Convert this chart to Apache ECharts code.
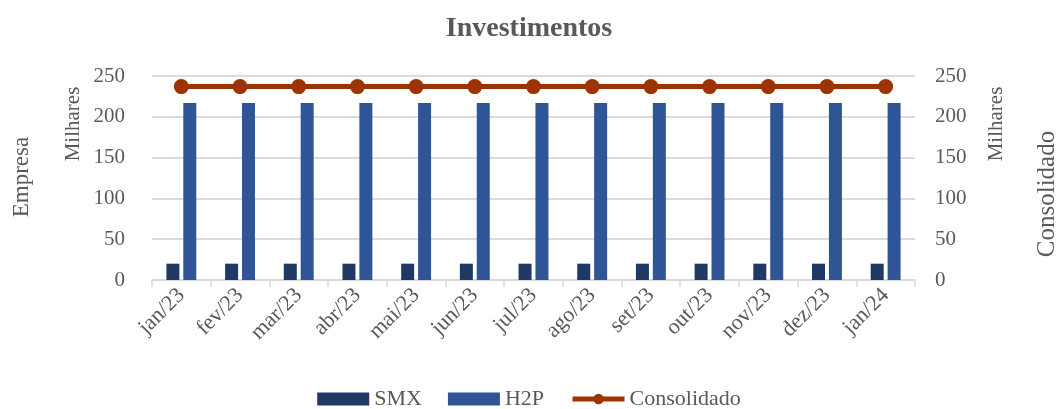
<!DOCTYPE html>
<html>
<head>
<meta charset="utf-8">
<script src="https://cdn.jsdelivr.net/npm/echarts@6/dist/echarts.min.js"></script>
<style>
html,body{margin:0;padding:0;background:#fff;}
#chart{width:1058px;height:409px;}
</style>
</head>
<body>
<div id="chart"></div>
<script>
var months = ['jan/23','fev/23','mar/23','abr/23','mai/23','jun/23','jul/23','ago/23','set/23','out/23','nov/23','dez/23','jan/24'];
var smx = [20, 20, 20, 20, 20, 20, 20, 20, 20, 20, 20, 20, 20];
var h2p = [217, 217, 217, 217, 217, 217, 217, 217, 217, 217, 217, 217, 217];
var consolidado = [237, 237, 237, 237, 237, 237, 237, 237, 237, 237, 237, 237, 237];

var font = '"Liberation Serif", "DejaVu Serif", serif';
var grey = '#595959';
var gridColor = '#d9d9d9';
var red = '#9c3300';

var chart = echarts.init(document.getElementById('chart'));

// eixo de valores, igual dos dois lados
function valueAxis(pos, margin) {
  return {
    type: 'value',
    position: pos,
    min: 0,
    max: 250,
    interval: 50,
    axisLine: { show: false },
    axisTick: { show: false },
    splitLine: { lineStyle: { color: gridColor, width: 1.5 } },
    axisLabel: { color: grey, fontFamily: font, fontSize: 21, margin: margin }
  };
}

// titulos verticais dos eixos
function vText(txt, x, y, size) {
  return {
    type: 'text', x: x, y: y, rotation: Math.PI / 2,
    style: { text: txt, fill: grey, font: size + 'px ' + font, textAlign: 'center', textVerticalAlign: 'middle' }
  };
}

chart.setOption({
  animation: false,
  textStyle: { fontFamily: font },
  title: {
    text: 'Investimentos',
    left: 'center',
    top: 10,
    textStyle: { color: grey, fontFamily: font, fontSize: 28, fontWeight: 'bold' }
  },
  legend: {
    top: 383,
    left: 'center',
    itemWidth: 52,
    itemHeight: 13,
    itemGap: 26,
    textStyle: { color: grey, fontFamily: font, fontSize: 22 },
    data: [
      { name: 'SMX', icon: 'rect' },
      { name: 'H2P', icon: 'rect' },
      { name: 'Consolidado', lineStyle: { width: 5, color: red } }
    ]
  },
  grid: { left: 152, right: 143, top: 76, bottom: 129 },
  xAxis: {
    type: 'category',
    data: months,
    axisLine: { lineStyle: { color: gridColor, width: 1.5 } },
    axisTick: { show: true, length: 7, lineStyle: { color: gridColor, width: 1.5 } },
    axisLabel: { color: grey, fontFamily: font, fontSize: 22, rotate: 45, margin: 12, interval: 0 }
  },
  yAxis: [valueAxis('left', 27), valueAxis('right', 20)],
  graphic: [
    vText('Empresa', 22, 177, 23),
    vText('Milhares', 73, 124, 21),
    vText('Milhares', 996, 124, 21),
    vText('Consolidado', 1047, 194, 25)
  ],
  series: [
    {
      name: 'SMX',
      type: 'bar',
      data: smx,
      barWidth: 13,
      barGap: '30%',
      itemStyle: { color: '#203864' }
    },
    {
      name: 'H2P',
      type: 'bar',
      data: h2p,
      barWidth: 13,
      barGap: '30%',
      itemStyle: { color: '#2f5597' }
    },
    {
      name: 'Consolidado',
      type: 'line',
      yAxisIndex: 1,
      data: consolidado,
      symbol: 'circle',
      symbolSize: 15,
      lineStyle: { color: red, width: 5 },
      itemStyle: { color: red }
    }
  ]
});
</script>
</body>
</html>
